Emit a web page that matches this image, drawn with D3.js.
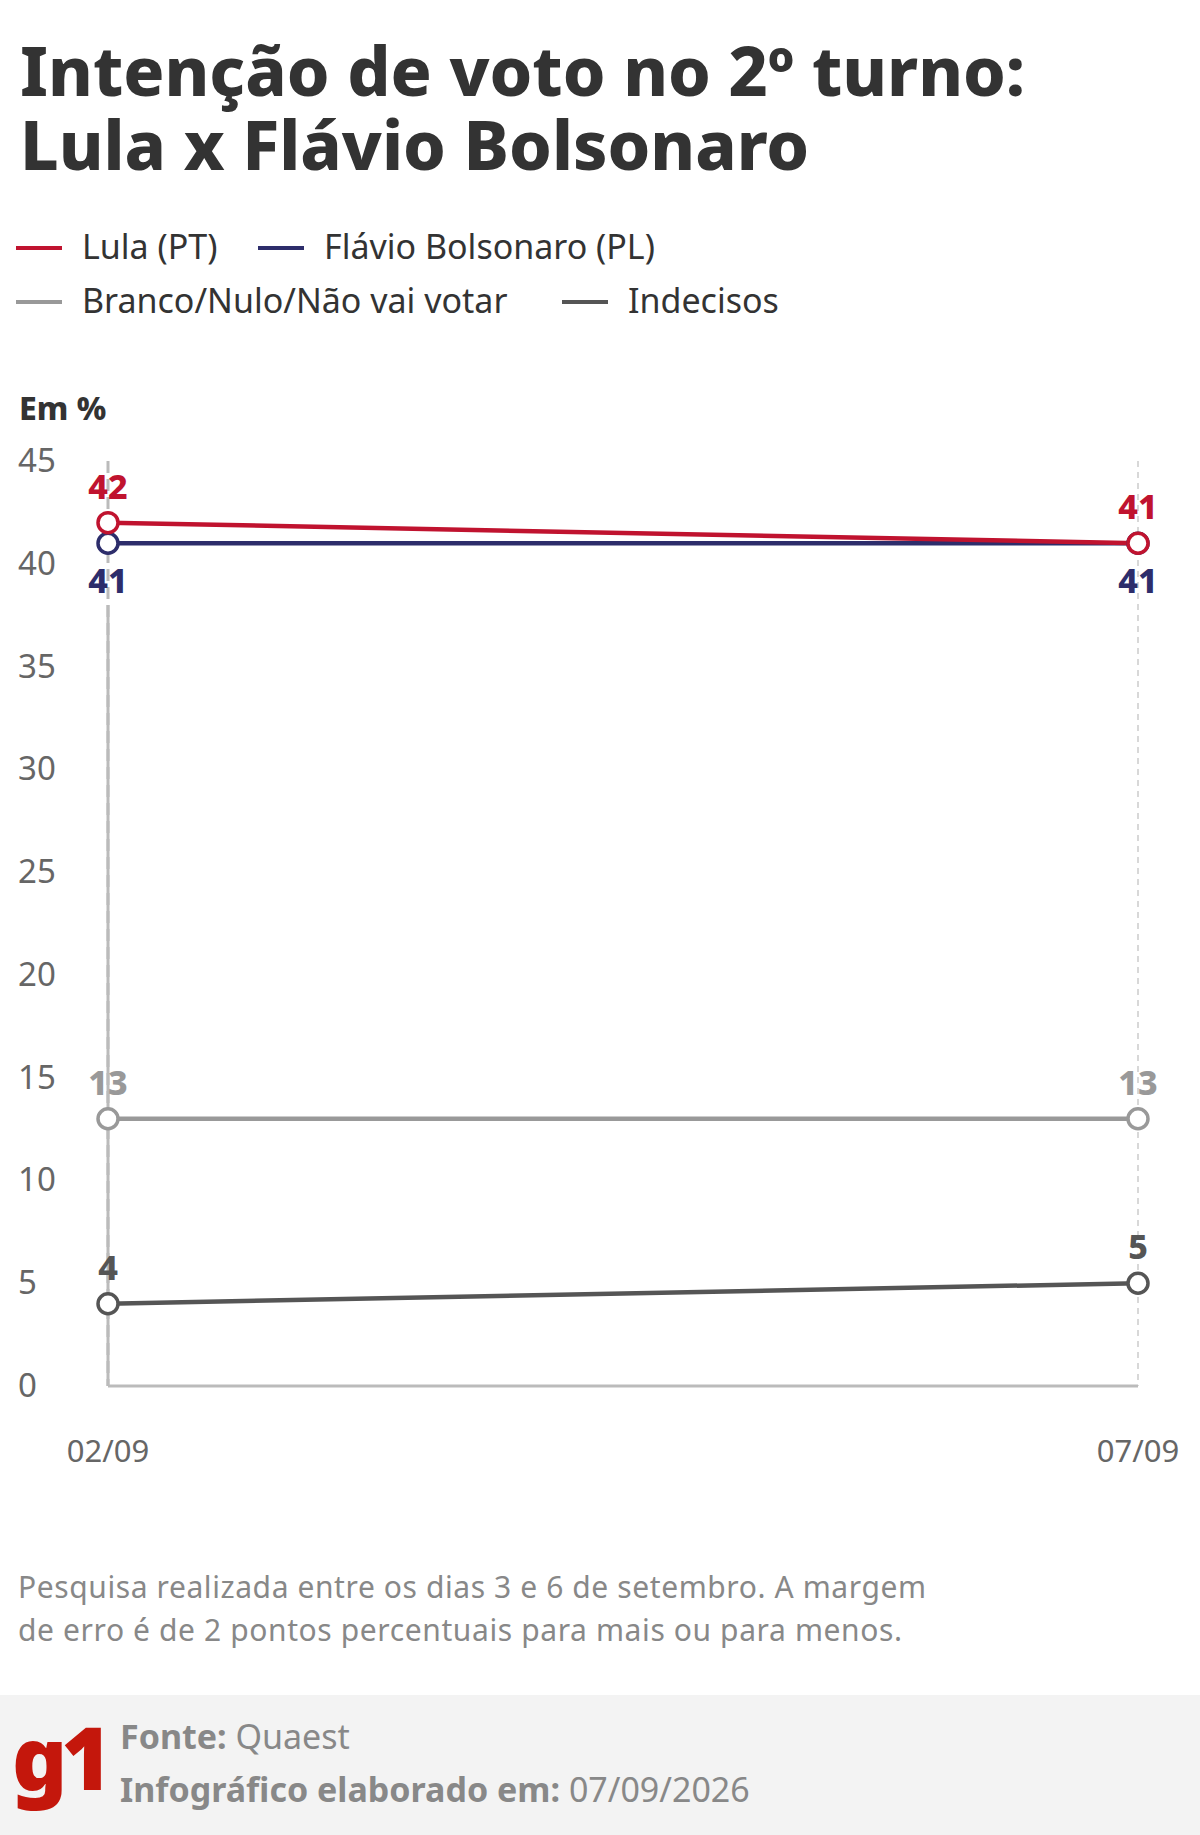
<!DOCTYPE html>
<html lang="pt">
<head>
<meta charset="UTF-8" />
<script src="https://cdn.jsdelivr.net/npm/d3@7"></script>
<style>
  body { margin: 0; background: #fff; }
  text { font-family: "Noto Sans", "Open Sans", sans-serif; }
</style>
</head>
<body>
<svg width="1200" height="1835"></svg>
<script>
  const dates = ["02/09", "07/09"];
  const yTicks = [0, 5, 10, 15, 20, 25, 30, 35, 40, 45];
  const lula = [42, 41];
  const flavio = [41, 41];
  const branco = [13, 13];
  const indecisos = [4, 5];

  const series = [
    { name: "Lula (PT)", values: lula, color: "#c0132f", pos: ["above", "above"] },
    { name: "Flávio Bolsonaro (PL)", values: flavio, color: "#2d2d6b", pos: ["below", "below"] },
    { name: "Branco/Nulo/Não vai votar", values: branco, color: "#999999", pos: ["above", "above"] },
    { name: "Indecisos", values: indecisos, color: "#555555", pos: ["above", "above"] }
  ];

  const svg = d3.select("svg");

  // title
  svg.append("text").attr("x", 20).attr("y", 96).attr("font-size", 68).attr("font-weight", 800)
    .attr("fill", "#333").text("Intenção de voto no 2º turno:");
  svg.append("text").attr("x", 20).attr("y", 170).attr("font-size", 68).attr("font-weight", 800)
    .attr("fill", "#333").text("Lula x Flávio Bolsonaro");

  // legend
  const legendPos = [[16, 259], [258, 259], [16, 313], [562, 313]];
  series.forEach((s, i) => {
    const [lx, ly] = legendPos[i];
    svg.append("line").attr("x1", lx).attr("x2", lx + 46).attr("y1", ly - 11).attr("y2", ly - 11)
      .attr("stroke", s.color).attr("stroke-width", 4);
    svg.append("text").attr("x", lx + 66).attr("y", ly).attr("font-size", 34).attr("fill", "#333").text(s.name);
  });

  svg.append("text").attr("x", 19).attr("y", 420).attr("font-size", 32).attr("font-weight", 800)
    .attr("fill", "#333").text("Em %");

  const x = d3.scalePoint().domain(dates).range([108, 1138]);
  const y = d3.scaleLinear().domain([0, 45]).range([1386, 461]);

  // y tick labels
  svg.append("g").selectAll("text").data(yTicks).join("text")
    .attr("x", 18).attr("y", d => y(d) + 11).attr("font-size", 33).attr("fill", "#666").text(d => d);

  // verticals
  svg.append("line").attr("x1", x(dates[0])).attr("x2", x(dates[0])).attr("y1", y(45)).attr("y2", y(0))
    .attr("stroke", "#bbb").attr("stroke-width", 3).attr("stroke-dasharray", "12,6");
  svg.append("line").attr("x1", x(dates[0])).attr("x2", x(dates[0])).attr("y1", y(38)).attr("y2", y(0))
    .attr("stroke", "#bbb").attr("stroke-width", 3);
  svg.append("line").attr("x1", x(dates[1])).attr("x2", x(dates[1])).attr("y1", y(45)).attr("y2", y(0))
    .attr("stroke", "#ccc").attr("stroke-width", 1.5).attr("stroke-dasharray", "6,5");
  svg.append("line").attr("x1", x(dates[0])).attr("x2", x(dates[1])).attr("y1", y(0)).attr("y2", y(0))
    .attr("stroke", "#bbb").attr("stroke-width", 3);

  // x labels
  svg.append("g").selectAll("text").data(dates).join("text")
    .attr("x", d => x(d)).attr("y", 1462).attr("text-anchor", "middle").attr("font-size", 31)
    .attr("fill", "#666").text(d => d);

  const line = d3.line().x((d, i) => x(dates[i])).y(d => y(d));
  series.slice().reverse().forEach(s => {
    svg.append("path").attr("d", line(s.values)).attr("fill", "none")
      .attr("stroke", s.color).attr("stroke-width", 4.5);
  });
  series.slice().reverse().forEach(s => {
    s.values.forEach((v, i) => {
      svg.append("circle").attr("cx", x(dates[i])).attr("cy", y(v)).attr("r", 10)
        .attr("fill", "#fff").attr("stroke", s.color).attr("stroke-width", 3.5);
      svg.append("text").attr("x", x(dates[i])).attr("y", s.pos[i] === "above" ? y(v) - 24 : y(v) + 50)
        .attr("text-anchor", "middle").attr("font-size", 34).attr("font-weight", 800)
        .attr("fill", s.color).text(v);
    });
  });

  // note
  svg.append("text").attr("x", 18).attr("y", 1598).attr("font-size", 30).attr("fill", "#888")
    .attr("textLength", 908).text("Pesquisa realizada entre os dias 3 e 6 de setembro. A margem");
  svg.append("text").attr("x", 18).attr("y", 1641).attr("font-size", 30).attr("fill", "#888")
    .attr("textLength", 884).text("de erro é de 2 pontos percentuais para mais ou para menos.");

  // footer
  svg.append("rect").attr("x", 0).attr("y", 1695).attr("width", 1200).attr("height", 140).attr("fill", "#f3f3f3");
  svg.append("text").attr("x", 12).attr("y", 1790).attr("font-size", 86).attr("font-weight", 900)
    .attr("fill", "#c4170c").attr("letter-spacing", -6).text("g1");
  const f1 = svg.append("text").attr("x", 120).attr("y", 1749).attr("font-size", 34).attr("fill", "#888");
  f1.append("tspan").attr("font-weight", 700).text("Fonte: ");
  f1.append("tspan").text("Quaest");
  const f2 = svg.append("text").attr("x", 120).attr("y", 1802).attr("font-size", 34).attr("fill", "#888");
  f2.append("tspan").attr("font-weight", 700).text("Infográfico elaborado em: ");
  f2.append("tspan").text("07/09/2026");
</script>
</body>
</html>
